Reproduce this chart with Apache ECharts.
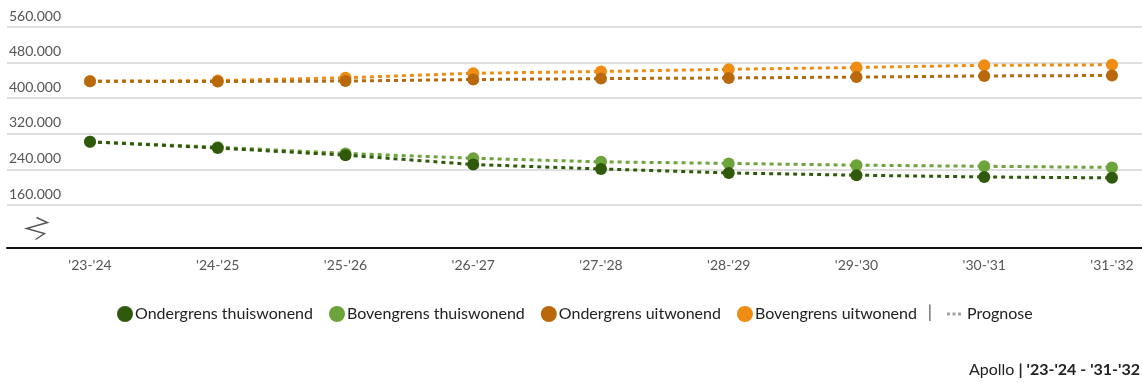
<!DOCTYPE html>
<html>
<head>
<meta charset="utf-8">
<title>Prognose studentenaantallen</title>
<script src="https://cdn.jsdelivr.net/npm/echarts@6/dist/echarts.min.js"></script>
<style>
  html, body { margin: 0; padding: 0; background: #ffffff; }
  #chart { width: 1142px; height: 383px; }
</style>
</head>
<body>
<div id="chart"></div>
<script>
// Studiejaren op de x-as
const years = ["'23-'24", "'24-'25", "'25-'26", "'26-'27", "'27-'28", "'28-'29", "'29-'30", "'30-'31", "'31-'32"];

// Waarden per reeks
const ondergrensThuis = [302000, 288000, 272000, 251000, 241000, 232000, 227000, 223000, 221000];
const bovengrensThuis = [302000, 290000, 276000, 265000, 257000, 253500, 249500, 247000, 244500];
const ondergrensUit   = [438000, 437500, 438500, 442000, 444000, 445500, 447500, 450000, 451000];
const bovengrensUit   = [438000, 439500, 446000, 456000, 460000, 465000, 469000, 474000, 475000];

const seriesNames = ['Ondergrens thuiswonend', 'Bovengrens thuiswonend', 'Ondergrens uitwonend', 'Bovengrens uitwonend'];
const seriesColors = ['#2f5a0b', '#6ca43b', '#b9690b', '#ee8c13'];
const seriesValues = [ondergrensThuis, bovengrensThuis, ondergrensUit, bovengrensUit];

// Y-as bereik en stapgrootte
const yMin = 160000;
const yMax = 560000;
const yStep = 80000;

const FONT = 'Lato, "Noto Sans", sans-serif';

function fmtThousands(v) {
  return String(Math.round(v)).replace(/\B(?=(\d{3})+(?!\d))/g, '.');
}

const chart = echarts.init(document.getElementById('chart'), null, { renderer: 'canvas' });

const lineSeries = seriesValues.map((vals, i) => ({
  name: seriesNames[i],
  type: 'line',
  xAxisIndex: 1,
  yAxisIndex: 1,
  data: vals,
  symbol: 'circle',
  symbolSize: 12,
  itemStyle: { color: seriesColors[i] },
  lineStyle: { color: seriesColors[i], width: 3, type: [4, 4] },
  z: 10 - i
}));

// Lege reeks zodat "Prognose" in de legenda verschijnt
const prognoseIcon = 'path://M0,0h3v3h-3z M5.5,0h3v3h-3z M11,0h3v3h-3z';
lineSeries.push({
  name: 'Prognose',
  type: 'scatter',
  xAxisIndex: 1,
  yAxisIndex: 1,
  data: [],
  symbol: prognoseIcon,
  itemStyle: { color: '#8c8c8c' }
});

const legendText = { color: '#222222', fontSize: 16, fontFamily: FONT };

const option = {
  animation: false,
  backgroundColor: '#ffffff',
  textStyle: { fontFamily: FONT },
  grid: [
    { left: 7, right: 0, top: 27, height: 178 },
    { left: 90, right: 30, top: 27, height: 178 }
  ],
  xAxis: [
    {
      gridIndex: 0,
      type: 'value',
      min: 0,
      max: 1,
      offset: 43,
      axisLine: { show: true, onZero: false, lineStyle: { color: '#111111', width: 2 } },
      axisTick: { show: false },
      axisLabel: { show: false },
      splitLine: { show: false }
    },
    {
      gridIndex: 1,
      type: 'category',
      data: years,
      boundaryGap: false,
      axisLine: { show: false },
      axisTick: { show: false },
      splitLine: { show: false },
      axisLabel: {
        margin: 53,
        color: '#555555',
        fontSize: 14,
        fontFamily: FONT
      }
    }
  ],
  yAxis: [
    {
      gridIndex: 0,
      type: 'value',
      min: yMin,
      max: yMax,
      interval: yStep,
      axisLine: { show: false },
      axisTick: { show: false },
      splitLine: { show: true, lineStyle: { color: '#d4d4d4', width: 1.5 } },
      axisLabel: {
        inside: true,
        margin: 2,
        verticalAlign: 'bottom',
        padding: [0, 0, 4, 0],
        color: '#555555',
        fontSize: 14,
        fontFamily: FONT,
        formatter: fmtThousands
      }
    },
    {
      gridIndex: 1,
      type: 'value',
      min: yMin,
      max: yMax,
      interval: yStep,
      show: false,
      splitLine: { show: false }
    }
  ],
  legend: [
    {
      top: 306,
      left: 117,
      padding: 0,
      itemGap: 16,
      itemWidth: 16,
      itemHeight: 16,
      textStyle: Object.assign({ padding: [0, 0, 0, -3] }, legendText),
      data: seriesNames.map(n => ({ name: n, icon: 'circle' })),
      selectedMode: false
    },
    {
      top: 306,
      left: 947,
      padding: 0,
      itemWidth: 14,
      itemHeight: 3,
      textStyle: Object.assign({ padding: [0, 0, 0, 1] }, legendText),
      data: [{ name: 'Prognose', icon: prognoseIcon }],
      selectedMode: false
    }
  ],
  graphic: [
    {
      // asonderbreking onder de laagste rasterlijn
      type: 'polyline',
      left: 24,
      top: 215,
      shape: { points: [[10, 0], [21, 5], [0, 11], [18, 16], [9, 22]] },
      style: { stroke: '#555555', lineWidth: 1.4, fill: null }
    },
    {
      // scheidingsteken in de legenda
      type: 'text',
      x: 930,
      y: 313,
      style: { text: '|', fontSize: 17, fontFamily: FONT, fill: '#555555', align: 'center', verticalAlign: 'middle' }
    },
    {
      type: 'text',
      right: 2,
      top: 362,
      style: {
        text: '{a|Apollo }{b|| \'23-\'24 - \'31-\'32}',
        rich: {
          a: { fontSize: 16, fontFamily: FONT, fill: '#222222' },
          b: { fontSize: 16, fontFamily: FONT, fontWeight: 'bold', fill: '#222222' }
        }
      }
    }
  ],
  series: lineSeries
};

chart.setOption(option);
</script>
</body>
</html>
